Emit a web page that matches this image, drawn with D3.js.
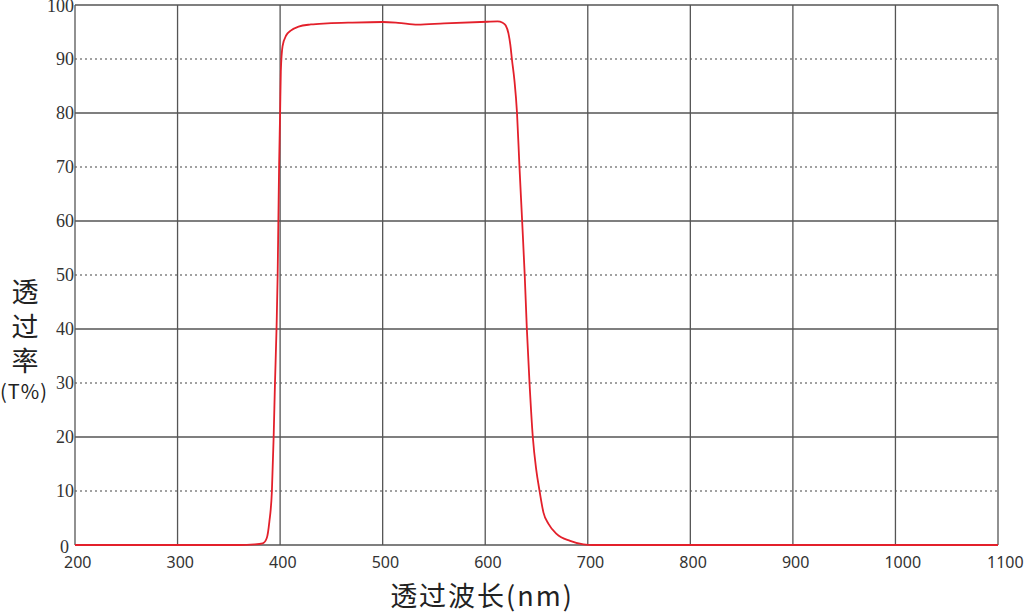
<!DOCTYPE html>
<html lang="zh">
<head>
  <meta charset="UTF-8" />
  <title>透过率曲线</title>
  <script src="https://d3js.org/d3.v7.min.js"></script>
  <style>
    html, body { margin: 0; padding: 0; background: #fff; }
    svg { display: block; }
    .grid line { stroke: #555; stroke-width: 1.3px; }
    .grid line.dot { stroke: #444; stroke-width: 1.2px; stroke-dasharray: 2,3; }
    .ylab { font-family: "Liberation Serif", "DejaVu Serif", serif; font-size: 18px; fill: #333; }
    .xlab { font-family: "Noto Sans", sans-serif; font-size: 16px; fill: #333; }
    .title { font-family: "Noto Sans CJK SC", sans-serif; fill: #222; }
  </style>
</head>
<body>
  <svg width="1024" height="612"></svg>
  <script>
    // wavelength (nm) and transmittance (%)
    const wavelength = [200, 360, 375, 383, 387, 389.5, 392, 393.7, 395, 396.5, 397.6, 398.3, 399, 400, 400.7,
      402.4, 406, 410, 418, 430, 446, 470, 500, 515, 534, 560, 602, 612, 617, 620, 622.7, 624.5, 626, 628.5, 631,
      633.4, 636, 638.5, 640.6, 643.2, 646.4, 649.7, 653, 656.8, 661.7, 669.8, 682.8, 695.8, 705, 1100];
    const transmit = [0, 0, 0.1, 0.3, 1.3, 4.3, 10, 20, 30, 40, 50, 60, 70, 80, 87.7,
      92.4, 94.4, 95.2, 96.0, 96.4, 96.6, 96.75, 96.85, 96.7, 96.35, 96.6, 96.9, 96.95, 96.7, 96.2, 94.7, 92.6, 90, 86, 80,
      70, 60, 50, 40, 30, 20, 14, 10, 6, 3.9, 2.0, 0.75, 0.1, 0, 0];

    const xTicks = [200, 300, 400, 500, 600, 700, 800, 900, 1000, 1100];
    const yTicks = [0, 10, 20, 30, 40, 50, 60, 70, 80, 90, 100];

    const svg = d3.select("svg");
    const x = d3.scaleLinear().domain([200, 1100]).range([75, 998]);
    const y = d3.scaleLinear().domain([0, 100]).range([545, 5]);

    const grid = svg.append("g").attr("class", "grid");

    // horizontal lines: solid on 0,20,..., dotted on 10,30,...
    grid.selectAll("line.h")
      .data(yTicks)
      .enter()
      .append("line")
      .attr("class", d => d % 20 === 0 ? "h" : "h dot")
      .attr("x1", x(200)).attr("x2", x(1100))
      .attr("y1", d => y(d)).attr("y2", d => y(d));

    grid.selectAll("line.v")
      .data(xTicks)
      .enter()
      .append("line")
      .attr("class", "v")
      .attr("x1", d => x(d)).attr("x2", d => x(d))
      .attr("y1", y(0)).attr("y2", y(100));

    // y tick labels
    svg.selectAll("text.ylab")
      .data(yTicks)
      .enter()
      .append("text")
      .attr("class", "ylab")
      .attr("x", d => d === 0 ? 69 : 74)
      .attr("y", d => d === 100 ? y(d) + 7 : y(d) + (d === 0 ? 8 : 6))
      .attr("text-anchor", "end")
      .text(d => d);

    // x tick labels, left-aligned a little before each grid line
    svg.selectAll("text.xlab")
      .data(xTicks)
      .enter()
      .append("text")
      .attr("class", "xlab")
      .attr("x", d => x(d) - 11)
      .attr("y", 568)
      .text(d => d);

    // the curve
    const pts = wavelength.map((w, i) => [w, transmit[i]]);
    const line = d3.line()
      .x(d => x(d[0]))
      .y(d => y(d[1]))
      .curve(d3.curveMonotoneX);

    svg.append("path")
      .datum(pts)
      .attr("d", line)
      .attr("fill", "none")
      .attr("stroke", "#e3202b")
      .attr("stroke-width", 1.8);

    // axis titles
    const yTitle = ["透", "过", "率"];
    svg.selectAll("text.ytitle")
      .data(yTitle)
      .enter()
      .append("text")
      .attr("class", "title")
      .attr("x", 25)
      .attr("y", (d, i) => 302 + i * 34.5)
      .attr("text-anchor", "middle")
      .style("font-size", "27px")
      .text(d => d);

    svg.append("text")
      .attr("class", "title")
      .attr("x", 24)
      .attr("y", 399)
      .attr("text-anchor", "middle")
      .style("font-size", "20px")
      .style("letter-spacing", "1px")
      .text("(T%)");

    svg.append("text")
      .attr("class", "title")
      .attr("x", 482)
      .attr("y", 606)
      .attr("text-anchor", "middle")
      .style("font-size", "27px")
      .style("letter-spacing", "2px")
      .text("透过波长(nm)");
  </script>
</body>
</html>
